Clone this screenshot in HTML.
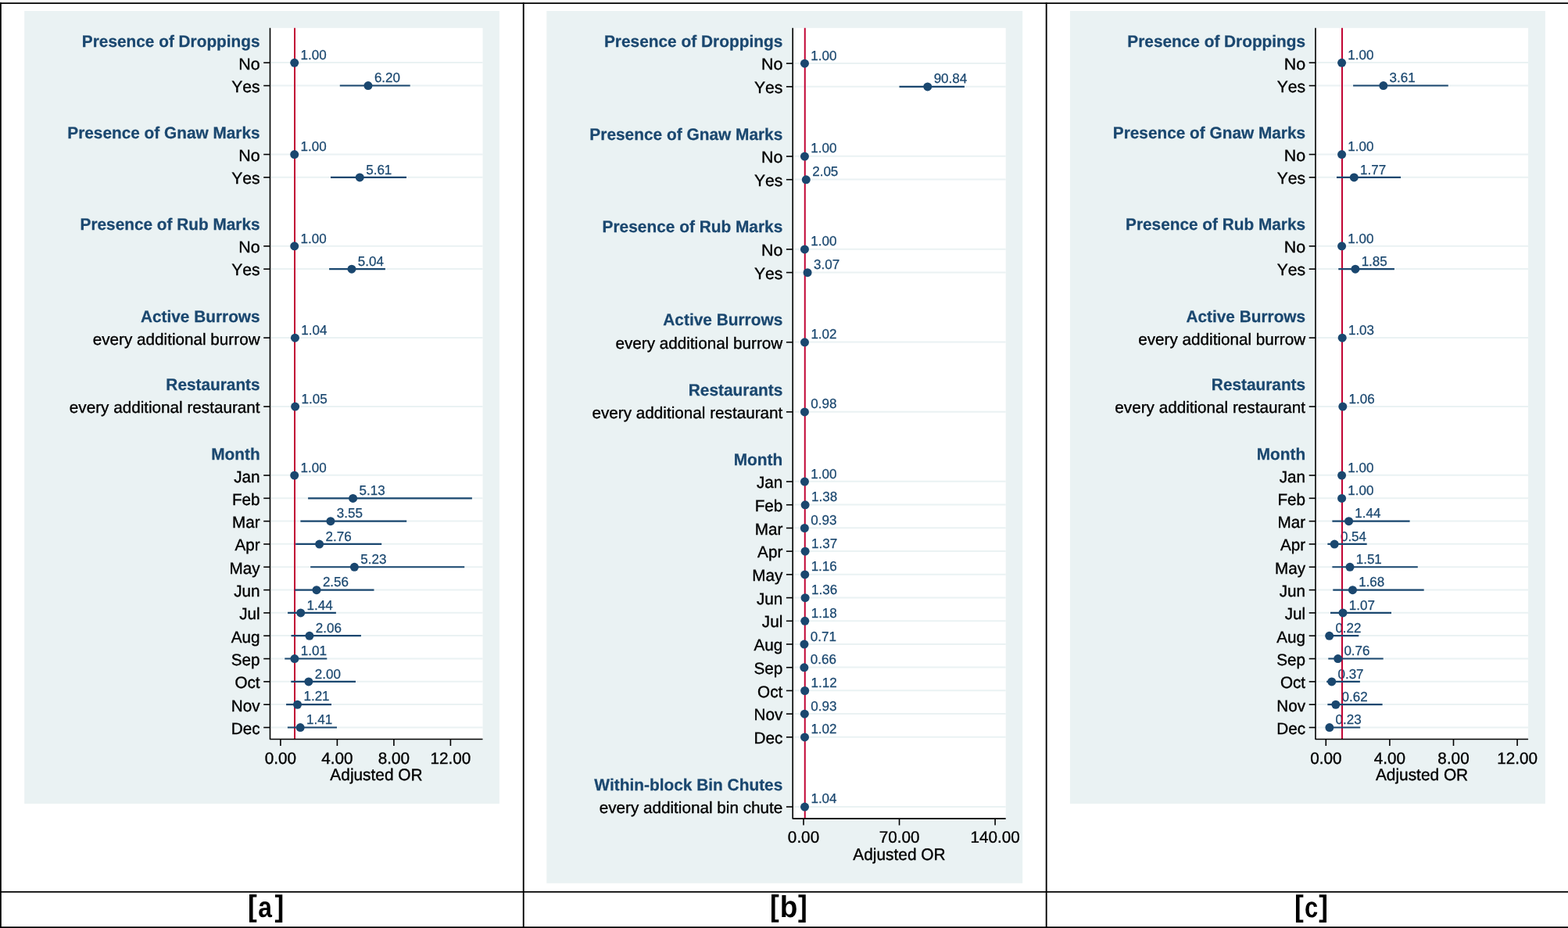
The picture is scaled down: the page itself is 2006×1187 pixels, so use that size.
<!DOCTYPE html>
<html lang="en">
<head>
<meta charset="utf-8">
<title>Adjusted odds ratios</title>
<style>
html,body{margin:0;padding:0;background:#fff;}
body{width:2006px;height:1187px;overflow:hidden;}
svg{display:block;}
</style>
</head>
<body>
<svg width="2006" height="1187" viewBox="0 0 2006 1187" style="font-kerning:none" font-family="'Liberation Sans', Arial, Helvetica, sans-serif">
<rect width="2006" height="1187" fill="#fff"/>
<g>
<rect x="31.2" y="14" width="607.7" height="1014" fill="#eaf2f3"/>
<rect x="345.5" y="35.8" width="272" height="909.7" fill="#fff"/>
<g stroke="#eaf2f3" stroke-width="2">
<line x1="346.5" y1="80.1" x2="617.5" y2="80.1"/>
<line x1="346.5" y1="109.42" x2="617.5" y2="109.42"/>
<line x1="346.5" y1="197.38" x2="617.5" y2="197.38"/>
<line x1="346.5" y1="226.7" x2="617.5" y2="226.7"/>
<line x1="346.5" y1="314.66" x2="617.5" y2="314.66"/>
<line x1="346.5" y1="343.98" x2="617.5" y2="343.98"/>
<line x1="346.5" y1="431.94" x2="617.5" y2="431.94"/>
<line x1="346.5" y1="519.9" x2="617.5" y2="519.9"/>
<line x1="346.5" y1="607.86" x2="617.5" y2="607.86"/>
<line x1="346.5" y1="637.18" x2="617.5" y2="637.18"/>
<line x1="346.5" y1="666.5" x2="617.5" y2="666.5"/>
<line x1="346.5" y1="695.82" x2="617.5" y2="695.82"/>
<line x1="346.5" y1="725.14" x2="617.5" y2="725.14"/>
<line x1="346.5" y1="754.46" x2="617.5" y2="754.46"/>
<line x1="346.5" y1="783.78" x2="617.5" y2="783.78"/>
<line x1="346.5" y1="813.1" x2="617.5" y2="813.1"/>
<line x1="346.5" y1="842.42" x2="617.5" y2="842.42"/>
<line x1="346.5" y1="871.74" x2="617.5" y2="871.74"/>
<line x1="346.5" y1="901.06" x2="617.5" y2="901.06"/>
<line x1="346.5" y1="930.38" x2="617.5" y2="930.38"/>
</g>
<g font-size="17.05" fill="#1a476f" stroke="#1a476f" stroke-width="0.25">
<text transform="translate(384.62 76.1) rotate(0.05) scale(1 1.015)">1.00</text>
<text transform="translate(478.88 105.1) rotate(0.05) scale(1 1.015)">6.20</text>
<text transform="translate(384.62 193.1) rotate(0.05) scale(1 1.015)">1.00</text>
<text transform="translate(468.18 223.1) rotate(0.05) scale(1 1.015)">5.61</text>
<text transform="translate(384.62 311.1) rotate(0.05) scale(1 1.015)">1.00</text>
<text transform="translate(457.85 340.1) rotate(0.05) scale(1 1.015)">5.04</text>
<text transform="translate(385.35 428.1) rotate(0.05) scale(1 1.015)">1.04</text>
<text transform="translate(385.53 516.1) rotate(0.05) scale(1 1.015)">1.05</text>
<text transform="translate(384.62 604.1) rotate(0.05) scale(1 1.015)">1.00</text>
<text transform="translate(459.48 633.1) rotate(0.05) scale(1 1.015)">5.13</text>
<text transform="translate(430.84 662.1) rotate(0.05) scale(1 1.015)">3.55</text>
<text transform="translate(416.52 692.1) rotate(0.05) scale(1 1.015)">2.76</text>
<text transform="translate(461.29 721.1) rotate(0.05) scale(1 1.015)">5.23</text>
<text transform="translate(412.9 750.1) rotate(0.05) scale(1 1.015)">2.56</text>
<text transform="translate(392.6 780.1) rotate(0.05) scale(1 1.015)">1.44</text>
<text transform="translate(403.84 809.1) rotate(0.05) scale(1 1.015)">2.06</text>
<text transform="translate(384.81 838.1) rotate(0.05) scale(1 1.015)">1.01</text>
<text transform="translate(402.75 868.1) rotate(0.05) scale(1 1.015)">2.00</text>
<text transform="translate(388.43 896.1) rotate(0.05) scale(1 1.015)">1.21</text>
<text transform="translate(392.06 926.1) rotate(0.05) scale(1 1.015)">1.41</text>
</g>
<line x1="377.02" y1="35.8" x2="377.02" y2="945.5" stroke="#c10534" stroke-width="2"/>
<g stroke="#1a476f" stroke-width="2.2">
<line x1="434.8" y1="109.52" x2="524.7" y2="109.52"/>
<line x1="423" y1="226.8" x2="520" y2="226.8"/>
<line x1="421.1" y1="344.08" x2="492.9" y2="344.08"/>
<line x1="394.1" y1="637.28" x2="603.9" y2="637.28"/>
<line x1="384.4" y1="666.6" x2="520.2" y2="666.6"/>
<line x1="378.2" y1="695.92" x2="488.2" y2="695.92"/>
<line x1="397.2" y1="725.24" x2="594.2" y2="725.24"/>
<line x1="377.2" y1="754.56" x2="478.5" y2="754.56"/>
<line x1="368.1" y1="783.88" x2="429.9" y2="783.88"/>
<line x1="372.5" y1="813.2" x2="461.9" y2="813.2"/>
<line x1="364.3" y1="842.52" x2="418.3" y2="842.52"/>
<line x1="372.3" y1="871.84" x2="455" y2="871.84"/>
<line x1="366.1" y1="901.16" x2="424" y2="901.16"/>
<line x1="367.9" y1="930.48" x2="431" y2="930.48"/>
</g>
<g fill="#1a476f">
<circle cx="376.72" cy="80.3" r="5.5"/>
<circle cx="470.97" cy="109.62" r="5.5"/>
<circle cx="376.72" cy="197.58" r="5.5"/>
<circle cx="460.28" cy="226.9" r="5.5"/>
<circle cx="376.72" cy="314.86" r="5.5"/>
<circle cx="449.95" cy="344.18" r="5.5"/>
<circle cx="377.45" cy="432.14" r="5.5"/>
<circle cx="377.63" cy="520.1" r="5.5"/>
<circle cx="376.72" cy="608.06" r="5.5"/>
<circle cx="451.58" cy="637.38" r="5.5"/>
<circle cx="422.94" cy="666.7" r="5.5"/>
<circle cx="408.62" cy="696.02" r="5.5"/>
<circle cx="453.39" cy="725.34" r="5.5"/>
<circle cx="405" cy="754.66" r="5.5"/>
<circle cx="384.7" cy="783.98" r="5.5"/>
<circle cx="395.94" cy="813.3" r="5.5"/>
<circle cx="376.91" cy="842.62" r="5.5"/>
<circle cx="394.85" cy="871.94" r="5.5"/>
<circle cx="380.53" cy="901.26" r="5.5"/>
<circle cx="384.16" cy="930.58" r="5.5"/>
</g>
<g stroke="#000" stroke-width="1.6" fill="none">
<path d="M345.5 35.8V945.5H617.5" stroke-linejoin="round"/>
<line x1="337.2" y1="80.25" x2="345.5" y2="80.25"/>
<line x1="337.2" y1="109.57" x2="345.5" y2="109.57"/>
<line x1="337.2" y1="197.53" x2="345.5" y2="197.53"/>
<line x1="337.2" y1="226.85" x2="345.5" y2="226.85"/>
<line x1="337.2" y1="314.81" x2="345.5" y2="314.81"/>
<line x1="337.2" y1="344.13" x2="345.5" y2="344.13"/>
<line x1="337.2" y1="432.09" x2="345.5" y2="432.09"/>
<line x1="337.2" y1="520.05" x2="345.5" y2="520.05"/>
<line x1="337.2" y1="608.01" x2="345.5" y2="608.01"/>
<line x1="337.2" y1="637.33" x2="345.5" y2="637.33"/>
<line x1="337.2" y1="666.65" x2="345.5" y2="666.65"/>
<line x1="337.2" y1="695.97" x2="345.5" y2="695.97"/>
<line x1="337.2" y1="725.29" x2="345.5" y2="725.29"/>
<line x1="337.2" y1="754.61" x2="345.5" y2="754.61"/>
<line x1="337.2" y1="783.93" x2="345.5" y2="783.93"/>
<line x1="337.2" y1="813.25" x2="345.5" y2="813.25"/>
<line x1="337.2" y1="842.57" x2="345.5" y2="842.57"/>
<line x1="337.2" y1="871.89" x2="345.5" y2="871.89"/>
<line x1="337.2" y1="901.21" x2="345.5" y2="901.21"/>
<line x1="337.2" y1="930.53" x2="345.5" y2="930.53"/>
<line x1="358.9" y1="945.5" x2="358.9" y2="954"/>
<line x1="431.4" y1="945.5" x2="431.4" y2="954"/>
<line x1="503.9" y1="945.5" x2="503.9" y2="954"/>
<line x1="576.4" y1="945.5" x2="576.4" y2="954"/>
</g>
<g font-size="20.7" text-anchor="end" stroke="#000" stroke-width="0.35">
<text transform="translate(332.6 60.1) rotate(0.05) scale(1.0055 1.02)" font-weight="bold" fill="#1a476f" stroke="#1a476f" stroke-width="0.25">Presence of Droppings</text>
<text transform="translate(332.6 177.1) rotate(0.05) scale(1.0055 1.02)" font-weight="bold" fill="#1a476f" stroke="#1a476f" stroke-width="0.25">Presence of Gnaw Marks</text>
<text transform="translate(332.6 294.1) rotate(0.05) scale(1.0055 1.02)" font-weight="bold" fill="#1a476f" stroke="#1a476f" stroke-width="0.25">Presence of Rub Marks</text>
<text transform="translate(332.6 412.1) rotate(0.05) scale(1.0055 1.02)" font-weight="bold" fill="#1a476f" stroke="#1a476f" stroke-width="0.25">Active Burrows</text>
<text transform="translate(332.6 499.1) rotate(0.05) scale(1.0055 1.02)" font-weight="bold" fill="#1a476f" stroke="#1a476f" stroke-width="0.25">Restaurants</text>
<text transform="translate(332.6 588.1) rotate(0.05) scale(1.0055 1.02)" font-weight="bold" fill="#1a476f" stroke="#1a476f" stroke-width="0.25">Month</text>
<text transform="translate(332.6 89.1) rotate(0.05) scale(1.036 1.01)">No</text>
<text transform="translate(332.6 118.1) rotate(0.05) scale(1.02 1.01)">Yes</text>
<text transform="translate(332.6 206.1) rotate(0.05) scale(1.036 1.01)">No</text>
<text transform="translate(332.6 235.1) rotate(0.05) scale(1.02 1.01)">Yes</text>
<text transform="translate(332.6 323.1) rotate(0.05) scale(1.036 1.01)">No</text>
<text transform="translate(332.6 352.1) rotate(0.05) scale(1.02 1.01)">Yes</text>
<text transform="translate(332.6 441.1) rotate(0.05)">every additional burrow</text>
<text transform="translate(332.6 528.1) rotate(0.05)">every additional restaurant</text>
<text transform="translate(332.6 617.1) rotate(0.05) scale(1.0 1.01)">Jan</text>
<text transform="translate(332.6 646.1) rotate(0.05) scale(1.0 1.01)">Feb</text>
<text transform="translate(332.6 675.1) rotate(0.05) scale(1.0 1.01)">Mar</text>
<text transform="translate(332.6 704.1) rotate(0.05) scale(1.0 1.01)">Apr</text>
<text transform="translate(332.6 734.1) rotate(0.05) scale(1.0 1.01)">May</text>
<text transform="translate(332.6 763.1) rotate(0.05) scale(1.0 1.01)">Jun</text>
<text transform="translate(332.6 792.1) rotate(0.05) scale(1.0 1.01)">Jul</text>
<text transform="translate(332.6 822.1) rotate(0.05) scale(1.0 1.01)">Aug</text>
<text transform="translate(332.6 851.1) rotate(0.05) scale(1.0 1.01)">Sep</text>
<text transform="translate(332.6 880.1) rotate(0.05) scale(1.0 1.01)">Oct</text>
<text transform="translate(332.6 910.1) rotate(0.05) scale(1.0 1.01)">Nov</text>
<text transform="translate(332.6 939.1) rotate(0.05) scale(1.0 1.01)">Dec</text>
</g>
<g font-size="20.7" text-anchor="middle" stroke="#000" stroke-width="0.35">
<text transform="translate(358.9 976.9) rotate(0.05) scale(1 1.01)">0.00</text>
<text transform="translate(431.4 976.9) rotate(0.05) scale(1 1.01)">4.00</text>
<text transform="translate(503.9 976.9) rotate(0.05) scale(1 1.01)">8.00</text>
<text transform="translate(576.4 976.9) rotate(0.05) scale(1 1.01)">12.00</text>
<text transform="translate(481.5 998.1) rotate(0.05) scale(1.008 1.02)">Adjusted OR</text>
</g>
</g>
<g>
<rect x="699.3" y="14" width="608.9" height="1115.75" fill="#eaf2f3"/>
<rect x="1014.2" y="35.8" width="272.5" height="1011.3" fill="#fff"/>
<g stroke="#eaf2f3" stroke-width="2">
<line x1="1015.2" y1="81" x2="1286.7" y2="81"/>
<line x1="1015.2" y1="110.72" x2="1286.7" y2="110.72"/>
<line x1="1015.2" y1="199.86" x2="1286.7" y2="199.86"/>
<line x1="1015.2" y1="229.57" x2="1286.7" y2="229.57"/>
<line x1="1015.2" y1="318.72" x2="1286.7" y2="318.72"/>
<line x1="1015.2" y1="348.43" x2="1286.7" y2="348.43"/>
<line x1="1015.2" y1="437.58" x2="1286.7" y2="437.58"/>
<line x1="1015.2" y1="526.73" x2="1286.7" y2="526.73"/>
<line x1="1015.2" y1="615.87" x2="1286.7" y2="615.87"/>
<line x1="1015.2" y1="645.58" x2="1286.7" y2="645.58"/>
<line x1="1015.2" y1="675.3" x2="1286.7" y2="675.3"/>
<line x1="1015.2" y1="705.01" x2="1286.7" y2="705.01"/>
<line x1="1015.2" y1="734.73" x2="1286.7" y2="734.73"/>
<line x1="1015.2" y1="764.44" x2="1286.7" y2="764.44"/>
<line x1="1015.2" y1="794.16" x2="1286.7" y2="794.16"/>
<line x1="1015.2" y1="823.88" x2="1286.7" y2="823.88"/>
<line x1="1015.2" y1="853.59" x2="1286.7" y2="853.59"/>
<line x1="1015.2" y1="883.3" x2="1286.7" y2="883.3"/>
<line x1="1015.2" y1="913.02" x2="1286.7" y2="913.02"/>
<line x1="1015.2" y1="942.74" x2="1286.7" y2="942.74"/>
<line x1="1015.2" y1="1031.88" x2="1286.7" y2="1031.88"/>
</g>
<g font-size="17.05" fill="#1a476f" stroke="#1a476f" stroke-width="0.25">
<text transform="translate(1037.35 77.1) rotate(0.05) scale(1 1.015)">1.00</text>
<text transform="translate(1194.63 106.1) rotate(0.05) scale(1 1.015)">90.84</text>
<text transform="translate(1037.35 195.1) rotate(0.05) scale(1 1.015)">1.00</text>
<text transform="translate(1039.19 225.1) rotate(0.05) scale(1 1.015)">2.05</text>
<text transform="translate(1037.35 314.1) rotate(0.05) scale(1 1.015)">1.00</text>
<text transform="translate(1040.97 344.1) rotate(0.05) scale(1 1.015)">3.07</text>
<text transform="translate(1037.39 433.1) rotate(0.05) scale(1 1.015)">1.02</text>
<text transform="translate(1037.32 522.1) rotate(0.05) scale(1 1.015)">0.98</text>
<text transform="translate(1037.35 612.1) rotate(0.05) scale(1 1.015)">1.00</text>
<text transform="translate(1038.02 641.1) rotate(0.05) scale(1 1.015)">1.38</text>
<text transform="translate(1037.23 671.1) rotate(0.05) scale(1 1.015)">0.93</text>
<text transform="translate(1038 701.1) rotate(0.05) scale(1 1.015)">1.37</text>
<text transform="translate(1037.63 730.1) rotate(0.05) scale(1 1.015)">1.16</text>
<text transform="translate(1037.98 760.1) rotate(0.05) scale(1 1.015)">1.36</text>
<text transform="translate(1037.67 790.1) rotate(0.05) scale(1 1.015)">1.18</text>
<text transform="translate(1036.84 820.1) rotate(0.05) scale(1 1.015)">0.71</text>
<text transform="translate(1036.76 849.1) rotate(0.05) scale(1 1.015)">0.66</text>
<text transform="translate(1037.56 879.1) rotate(0.05) scale(1 1.015)">1.12</text>
<text transform="translate(1037.23 909.1) rotate(0.05) scale(1 1.015)">0.93</text>
<text transform="translate(1037.39 938.1) rotate(0.05) scale(1 1.015)">1.02</text>
<text transform="translate(1037.42 1027.1) rotate(0.05) scale(1 1.015)">1.04</text>
</g>
<line x1="1029.75" y1="35.8" x2="1029.75" y2="1047.1" stroke="#c10534" stroke-width="2"/>
<g stroke="#1a476f" stroke-width="2.2">
<line x1="1150.5" y1="110.81" x2="1233.9" y2="110.81"/>
</g>
<g fill="#1a476f">
<circle cx="1029.45" cy="81.2" r="5.5"/>
<circle cx="1186.73" cy="110.92" r="5.5"/>
<circle cx="1029.45" cy="200.06" r="5.5"/>
<circle cx="1031.29" cy="229.77" r="5.5"/>
<circle cx="1029.45" cy="318.92" r="5.5"/>
<circle cx="1033.07" cy="348.63" r="5.5"/>
<circle cx="1029.49" cy="437.78" r="5.5"/>
<circle cx="1029.42" cy="526.93" r="5.5"/>
<circle cx="1029.45" cy="616.07" r="5.5"/>
<circle cx="1030.12" cy="645.78" r="5.5"/>
<circle cx="1029.33" cy="675.5" r="5.5"/>
<circle cx="1030.1" cy="705.22" r="5.5"/>
<circle cx="1029.73" cy="734.93" r="5.5"/>
<circle cx="1030.08" cy="764.64" r="5.5"/>
<circle cx="1029.77" cy="794.36" r="5.5"/>
<circle cx="1028.94" cy="824.08" r="5.5"/>
<circle cx="1028.86" cy="853.79" r="5.5"/>
<circle cx="1029.66" cy="883.5" r="5.5"/>
<circle cx="1029.33" cy="913.22" r="5.5"/>
<circle cx="1029.49" cy="942.94" r="5.5"/>
<circle cx="1029.52" cy="1032.08" r="5.5"/>
</g>
<g stroke="#000" stroke-width="1.6" fill="none">
<path d="M1014.2 35.8V1047.1H1286.7" stroke-linejoin="round"/>
<line x1="1005.9" y1="81.15" x2="1014.2" y2="81.15"/>
<line x1="1005.9" y1="110.87" x2="1014.2" y2="110.87"/>
<line x1="1005.9" y1="200.01" x2="1014.2" y2="200.01"/>
<line x1="1005.9" y1="229.72" x2="1014.2" y2="229.72"/>
<line x1="1005.9" y1="318.87" x2="1014.2" y2="318.87"/>
<line x1="1005.9" y1="348.58" x2="1014.2" y2="348.58"/>
<line x1="1005.9" y1="437.73" x2="1014.2" y2="437.73"/>
<line x1="1005.9" y1="526.88" x2="1014.2" y2="526.88"/>
<line x1="1005.9" y1="616.02" x2="1014.2" y2="616.02"/>
<line x1="1005.9" y1="645.73" x2="1014.2" y2="645.73"/>
<line x1="1005.9" y1="675.45" x2="1014.2" y2="675.45"/>
<line x1="1005.9" y1="705.16" x2="1014.2" y2="705.16"/>
<line x1="1005.9" y1="734.88" x2="1014.2" y2="734.88"/>
<line x1="1005.9" y1="764.59" x2="1014.2" y2="764.59"/>
<line x1="1005.9" y1="794.31" x2="1014.2" y2="794.31"/>
<line x1="1005.9" y1="824.02" x2="1014.2" y2="824.02"/>
<line x1="1005.9" y1="853.74" x2="1014.2" y2="853.74"/>
<line x1="1005.9" y1="883.45" x2="1014.2" y2="883.45"/>
<line x1="1005.9" y1="913.17" x2="1014.2" y2="913.17"/>
<line x1="1005.9" y1="942.88" x2="1014.2" y2="942.88"/>
<line x1="1005.9" y1="1032.03" x2="1014.2" y2="1032.03"/>
<line x1="1028" y1="1047.1" x2="1028" y2="1055.6"/>
<line x1="1150.55" y1="1047.1" x2="1150.55" y2="1055.6"/>
<line x1="1273.1" y1="1047.1" x2="1273.1" y2="1055.6"/>
</g>
<g font-size="20.7" text-anchor="end" stroke="#000" stroke-width="0.35">
<text transform="translate(1001.3 60.1) rotate(0.05) scale(1.008 1.02)" font-weight="bold" fill="#1a476f" stroke="#1a476f" stroke-width="0.25">Presence of Droppings</text>
<text transform="translate(1001.3 179.1) rotate(0.05) scale(1.008 1.02)" font-weight="bold" fill="#1a476f" stroke="#1a476f" stroke-width="0.25">Presence of Gnaw Marks</text>
<text transform="translate(1001.3 297.1) rotate(0.05) scale(1.008 1.02)" font-weight="bold" fill="#1a476f" stroke="#1a476f" stroke-width="0.25">Presence of Rub Marks</text>
<text transform="translate(1001.3 416.1) rotate(0.05) scale(1.008 1.02)" font-weight="bold" fill="#1a476f" stroke="#1a476f" stroke-width="0.25">Active Burrows</text>
<text transform="translate(1001.3 506.1) rotate(0.05) scale(1.008 1.02)" font-weight="bold" fill="#1a476f" stroke="#1a476f" stroke-width="0.25">Restaurants</text>
<text transform="translate(1001.3 595.1) rotate(0.05) scale(1.008 1.02)" font-weight="bold" fill="#1a476f" stroke="#1a476f" stroke-width="0.25">Month</text>
<text transform="translate(1001.3 1011.1) rotate(0.05) scale(1.008 1.02)" font-weight="bold" fill="#1a476f" stroke="#1a476f" stroke-width="0.25">Within-block Bin Chutes</text>
<text transform="translate(1001.3 89.1) rotate(0.05) scale(1.036 1.01)">No</text>
<text transform="translate(1001.3 119.1) rotate(0.05) scale(1.02 1.01)">Yes</text>
<text transform="translate(1001.3 208.1) rotate(0.05) scale(1.036 1.01)">No</text>
<text transform="translate(1001.3 238.1) rotate(0.05) scale(1.02 1.01)">Yes</text>
<text transform="translate(1001.3 327.1) rotate(0.05) scale(1.036 1.01)">No</text>
<text transform="translate(1001.3 357.1) rotate(0.05) scale(1.02 1.01)">Yes</text>
<text transform="translate(1001.3 446.1) rotate(0.05)">every additional burrow</text>
<text transform="translate(1001.3 535.1) rotate(0.05)">every additional restaurant</text>
<text transform="translate(1001.3 624.1) rotate(0.05) scale(1.0 1.01)">Jan</text>
<text transform="translate(1001.3 654.1) rotate(0.05) scale(1.0 1.01)">Feb</text>
<text transform="translate(1001.3 684.1) rotate(0.05) scale(1.0 1.01)">Mar</text>
<text transform="translate(1001.3 713.1) rotate(0.05) scale(1.0 1.01)">Apr</text>
<text transform="translate(1001.3 743.1) rotate(0.05) scale(1.0 1.01)">May</text>
<text transform="translate(1001.3 773.1) rotate(0.05) scale(1.0 1.01)">Jun</text>
<text transform="translate(1001.3 802.1) rotate(0.05) scale(1.0 1.01)">Jul</text>
<text transform="translate(1001.3 832.1) rotate(0.05) scale(1.0 1.01)">Aug</text>
<text transform="translate(1001.3 862.1) rotate(0.05) scale(1.0 1.01)">Sep</text>
<text transform="translate(1001.3 892.1) rotate(0.05) scale(1.0 1.01)">Oct</text>
<text transform="translate(1001.3 921.1) rotate(0.05) scale(1.0 1.01)">Nov</text>
<text transform="translate(1001.3 951.1) rotate(0.05) scale(1.0 1.01)">Dec</text>
<text transform="translate(1001.3 1040.1) rotate(0.05)">every additional bin chute</text>
</g>
<g font-size="20.7" text-anchor="middle" stroke="#000" stroke-width="0.35">
<text transform="translate(1028 1077.7) rotate(0.05) scale(1 1.01)">0.00</text>
<text transform="translate(1150.55 1077.7) rotate(0.05) scale(1 1.01)">70.00</text>
<text transform="translate(1273.1 1077.7) rotate(0.05) scale(1 1.01)">140.00</text>
<text transform="translate(1150.45 1100.05) rotate(0.05) scale(1.008 1.02)">Adjusted OR</text>
</g>
</g>
<g>
<rect x="1368.9" y="14" width="608" height="1014" fill="#eaf2f3"/>
<rect x="1683" y="35.8" width="272.1" height="909.7" fill="#fff"/>
<g stroke="#eaf2f3" stroke-width="2">
<line x1="1684" y1="80.1" x2="1955.1" y2="80.1"/>
<line x1="1684" y1="109.42" x2="1955.1" y2="109.42"/>
<line x1="1684" y1="197.38" x2="1955.1" y2="197.38"/>
<line x1="1684" y1="226.7" x2="1955.1" y2="226.7"/>
<line x1="1684" y1="314.66" x2="1955.1" y2="314.66"/>
<line x1="1684" y1="343.98" x2="1955.1" y2="343.98"/>
<line x1="1684" y1="431.94" x2="1955.1" y2="431.94"/>
<line x1="1684" y1="519.9" x2="1955.1" y2="519.9"/>
<line x1="1684" y1="607.86" x2="1955.1" y2="607.86"/>
<line x1="1684" y1="637.18" x2="1955.1" y2="637.18"/>
<line x1="1684" y1="666.5" x2="1955.1" y2="666.5"/>
<line x1="1684" y1="695.82" x2="1955.1" y2="695.82"/>
<line x1="1684" y1="725.14" x2="1955.1" y2="725.14"/>
<line x1="1684" y1="754.46" x2="1955.1" y2="754.46"/>
<line x1="1684" y1="783.78" x2="1955.1" y2="783.78"/>
<line x1="1684" y1="813.1" x2="1955.1" y2="813.1"/>
<line x1="1684" y1="842.42" x2="1955.1" y2="842.42"/>
<line x1="1684" y1="871.74" x2="1955.1" y2="871.74"/>
<line x1="1684" y1="901.06" x2="1955.1" y2="901.06"/>
<line x1="1684" y1="930.38" x2="1955.1" y2="930.38"/>
</g>
<g font-size="17.05" fill="#1a476f" stroke="#1a476f" stroke-width="0.25">
<text transform="translate(1724.3 76.1) rotate(0.05) scale(1 1.015)">1.00</text>
<text transform="translate(1777.54 105.1) rotate(0.05) scale(1 1.015)">3.61</text>
<text transform="translate(1724.3 193.1) rotate(0.05) scale(1 1.015)">1.00</text>
<text transform="translate(1740.01 223.1) rotate(0.05) scale(1 1.015)">1.77</text>
<text transform="translate(1724.3 311.1) rotate(0.05) scale(1 1.015)">1.00</text>
<text transform="translate(1741.64 340.1) rotate(0.05) scale(1 1.015)">1.85</text>
<text transform="translate(1724.91 428.1) rotate(0.05) scale(1 1.015)">1.03</text>
<text transform="translate(1725.52 516.1) rotate(0.05) scale(1 1.015)">1.06</text>
<text transform="translate(1724.3 604.1) rotate(0.05) scale(1 1.015)">1.00</text>
<text transform="translate(1724.3 633.1) rotate(0.05) scale(1 1.015)">1.00</text>
<text transform="translate(1733.28 662.1) rotate(0.05) scale(1 1.015)">1.44</text>
<text transform="translate(1714.92 692.1) rotate(0.05) scale(1 1.015)">0.54</text>
<text transform="translate(1734.7 721.1) rotate(0.05) scale(1 1.015)">1.51</text>
<text transform="translate(1738.17 750.1) rotate(0.05) scale(1 1.015)">1.68</text>
<text transform="translate(1725.73 780.1) rotate(0.05) scale(1 1.015)">1.07</text>
<text transform="translate(1708.39 809.1) rotate(0.05) scale(1 1.015)">0.22</text>
<text transform="translate(1719.4 838.1) rotate(0.05) scale(1 1.015)">0.76</text>
<text transform="translate(1711.45 868.1) rotate(0.05) scale(1 1.015)">0.37</text>
<text transform="translate(1716.55 897.1) rotate(0.05) scale(1 1.015)">0.62</text>
<text transform="translate(1708.59 926.1) rotate(0.05) scale(1 1.015)">0.23</text>
</g>
<line x1="1717" y1="35.8" x2="1717" y2="945.5" stroke="#c10534" stroke-width="2"/>
<g stroke="#1a476f" stroke-width="2.2">
<line x1="1731.1" y1="109.52" x2="1852.8" y2="109.52"/>
<line x1="1710" y1="226.8" x2="1792.1" y2="226.8"/>
<line x1="1712.3" y1="344.08" x2="1783.9" y2="344.08"/>
<line x1="1704.4" y1="666.6" x2="1803.6" y2="666.6"/>
<line x1="1698.4" y1="695.92" x2="1748.7" y2="695.92"/>
<line x1="1704.4" y1="725.24" x2="1813.8" y2="725.24"/>
<line x1="1705.3" y1="754.56" x2="1821.7" y2="754.56"/>
<line x1="1702" y1="783.88" x2="1780" y2="783.88"/>
<line x1="1697.5" y1="813.2" x2="1738.3" y2="813.2"/>
<line x1="1699.3" y1="842.52" x2="1769.7" y2="842.52"/>
<line x1="1697.2" y1="871.84" x2="1739.9" y2="871.84"/>
<line x1="1698.4" y1="901.16" x2="1768.6" y2="901.16"/>
<line x1="1697.5" y1="930.48" x2="1740.2" y2="930.48"/>
</g>
<g fill="#1a476f">
<circle cx="1716.6" cy="80.3" r="5.5"/>
<circle cx="1769.84" cy="109.62" r="5.5"/>
<circle cx="1716.6" cy="197.58" r="5.5"/>
<circle cx="1732.31" cy="226.9" r="5.5"/>
<circle cx="1716.6" cy="314.86" r="5.5"/>
<circle cx="1733.94" cy="344.18" r="5.5"/>
<circle cx="1717.21" cy="432.14" r="5.5"/>
<circle cx="1717.82" cy="520.1" r="5.5"/>
<circle cx="1716.6" cy="608.06" r="5.5"/>
<circle cx="1716.6" cy="637.38" r="5.5"/>
<circle cx="1725.58" cy="666.7" r="5.5"/>
<circle cx="1707.22" cy="696.02" r="5.5"/>
<circle cx="1727" cy="725.34" r="5.5"/>
<circle cx="1730.47" cy="754.66" r="5.5"/>
<circle cx="1718.03" cy="783.98" r="5.5"/>
<circle cx="1700.69" cy="813.3" r="5.5"/>
<circle cx="1711.7" cy="842.62" r="5.5"/>
<circle cx="1703.75" cy="871.94" r="5.5"/>
<circle cx="1708.85" cy="901.26" r="5.5"/>
<circle cx="1700.89" cy="930.58" r="5.5"/>
</g>
<g stroke="#000" stroke-width="1.6" fill="none">
<path d="M1683 35.8V945.5H1955.1" stroke-linejoin="round"/>
<line x1="1674.7" y1="80.25" x2="1683" y2="80.25"/>
<line x1="1674.7" y1="109.57" x2="1683" y2="109.57"/>
<line x1="1674.7" y1="197.53" x2="1683" y2="197.53"/>
<line x1="1674.7" y1="226.85" x2="1683" y2="226.85"/>
<line x1="1674.7" y1="314.81" x2="1683" y2="314.81"/>
<line x1="1674.7" y1="344.13" x2="1683" y2="344.13"/>
<line x1="1674.7" y1="432.09" x2="1683" y2="432.09"/>
<line x1="1674.7" y1="520.05" x2="1683" y2="520.05"/>
<line x1="1674.7" y1="608.01" x2="1683" y2="608.01"/>
<line x1="1674.7" y1="637.33" x2="1683" y2="637.33"/>
<line x1="1674.7" y1="666.65" x2="1683" y2="666.65"/>
<line x1="1674.7" y1="695.97" x2="1683" y2="695.97"/>
<line x1="1674.7" y1="725.29" x2="1683" y2="725.29"/>
<line x1="1674.7" y1="754.61" x2="1683" y2="754.61"/>
<line x1="1674.7" y1="783.93" x2="1683" y2="783.93"/>
<line x1="1674.7" y1="813.25" x2="1683" y2="813.25"/>
<line x1="1674.7" y1="842.57" x2="1683" y2="842.57"/>
<line x1="1674.7" y1="871.89" x2="1683" y2="871.89"/>
<line x1="1674.7" y1="901.21" x2="1683" y2="901.21"/>
<line x1="1674.7" y1="930.53" x2="1683" y2="930.53"/>
<line x1="1696.3" y1="945.5" x2="1696.3" y2="954"/>
<line x1="1777.9" y1="945.5" x2="1777.9" y2="954"/>
<line x1="1859.5" y1="945.5" x2="1859.5" y2="954"/>
<line x1="1941.1" y1="945.5" x2="1941.1" y2="954"/>
</g>
<g font-size="20.7" text-anchor="end" stroke="#000" stroke-width="0.35">
<text transform="translate(1670.1 60.1) rotate(0.05) scale(1.0055 1.02)" font-weight="bold" fill="#1a476f" stroke="#1a476f" stroke-width="0.25">Presence of Droppings</text>
<text transform="translate(1670.1 177.1) rotate(0.05) scale(1.0055 1.02)" font-weight="bold" fill="#1a476f" stroke="#1a476f" stroke-width="0.25">Presence of Gnaw Marks</text>
<text transform="translate(1670.1 294.1) rotate(0.05) scale(1.0055 1.02)" font-weight="bold" fill="#1a476f" stroke="#1a476f" stroke-width="0.25">Presence of Rub Marks</text>
<text transform="translate(1670.1 412.1) rotate(0.05) scale(1.0055 1.02)" font-weight="bold" fill="#1a476f" stroke="#1a476f" stroke-width="0.25">Active Burrows</text>
<text transform="translate(1670.1 499.1) rotate(0.05) scale(1.0055 1.02)" font-weight="bold" fill="#1a476f" stroke="#1a476f" stroke-width="0.25">Restaurants</text>
<text transform="translate(1670.1 588.1) rotate(0.05) scale(1.0055 1.02)" font-weight="bold" fill="#1a476f" stroke="#1a476f" stroke-width="0.25">Month</text>
<text transform="translate(1670.1 89.1) rotate(0.05) scale(1.036 1.01)">No</text>
<text transform="translate(1670.1 118.1) rotate(0.05) scale(1.02 1.01)">Yes</text>
<text transform="translate(1670.1 206.1) rotate(0.05) scale(1.036 1.01)">No</text>
<text transform="translate(1670.1 235.1) rotate(0.05) scale(1.02 1.01)">Yes</text>
<text transform="translate(1670.1 323.1) rotate(0.05) scale(1.036 1.01)">No</text>
<text transform="translate(1670.1 352.1) rotate(0.05) scale(1.02 1.01)">Yes</text>
<text transform="translate(1670.1 441.1) rotate(0.05)">every additional burrow</text>
<text transform="translate(1670.1 528.1) rotate(0.05)">every additional restaurant</text>
<text transform="translate(1670.1 617.1) rotate(0.05) scale(1.0 1.01)">Jan</text>
<text transform="translate(1670.1 646.1) rotate(0.05) scale(1.0 1.01)">Feb</text>
<text transform="translate(1670.1 675.1) rotate(0.05) scale(1.0 1.01)">Mar</text>
<text transform="translate(1670.1 704.1) rotate(0.05) scale(1.0 1.01)">Apr</text>
<text transform="translate(1670.1 734.1) rotate(0.05) scale(1.0 1.01)">May</text>
<text transform="translate(1670.1 763.1) rotate(0.05) scale(1.0 1.01)">Jun</text>
<text transform="translate(1670.1 792.1) rotate(0.05) scale(1.0 1.01)">Jul</text>
<text transform="translate(1670.1 822.1) rotate(0.05) scale(1.0 1.01)">Aug</text>
<text transform="translate(1670.1 851.1) rotate(0.05) scale(1.0 1.01)">Sep</text>
<text transform="translate(1670.1 880.1) rotate(0.05) scale(1.0 1.01)">Oct</text>
<text transform="translate(1670.1 910.1) rotate(0.05) scale(1.0 1.01)">Nov</text>
<text transform="translate(1670.1 939.1) rotate(0.05) scale(1.0 1.01)">Dec</text>
</g>
<g font-size="20.7" text-anchor="middle" stroke="#000" stroke-width="0.35">
<text transform="translate(1696.3 976.9) rotate(0.05) scale(1 1.01)">0.00</text>
<text transform="translate(1777.9 976.9) rotate(0.05) scale(1 1.01)">4.00</text>
<text transform="translate(1859.5 976.9) rotate(0.05) scale(1 1.01)">8.00</text>
<text transform="translate(1941.1 976.9) rotate(0.05) scale(1 1.01)">12.00</text>
<text transform="translate(1819.05 998.1) rotate(0.05) scale(1.008 1.02)">Adjusted OR</text>
</g>
</g>
<g fill="#000">
<rect x="0" y="3.25" width="2006" height="1.75"/>
<rect x="0" y="1139.9" width="2006" height="1.8"/>
<rect x="0" y="1185.25" width="2006" height="1.75"/>
<rect x="0" y="3.25" width="1.8" height="1183.75"/>
<rect x="668.8" y="3.25" width="1.85" height="1183.75"/>
<rect x="1337.75" y="3.25" width="1.85" height="1183.75"/>
</g>
<g font-size="38.4" font-weight="bold" fill="#000">
<text transform="translate(317.05 1173) rotate(0.05)"><tspan x="0" y="-1.15" textLength="11.76" lengthAdjust="spacingAndGlyphs">[</tspan><tspan x="13.25" y="0" font-size="37.0" textLength="17.69" lengthAdjust="spacingAndGlyphs">a</tspan><tspan x="34.45" y="-1.15" textLength="11.76" lengthAdjust="spacingAndGlyphs">]</tspan></text>
<text transform="translate(985.05 1173) rotate(0.05)"><tspan x="0" y="-1.15" textLength="11.76" lengthAdjust="spacingAndGlyphs">[</tspan><tspan x="12.65" y="0" font-size="38.6" textLength="22.64" lengthAdjust="spacingAndGlyphs">b</tspan><tspan x="36.05" y="-1.15" textLength="11.76" lengthAdjust="spacingAndGlyphs">]</tspan></text>
<text transform="translate(1655.9 1173.2) rotate(0.05)"><tspan x="0" y="-1.15" textLength="11.76" lengthAdjust="spacingAndGlyphs">[</tspan><tspan x="13" y="0" font-size="37.2" textLength="17.17" lengthAdjust="spacingAndGlyphs">c</tspan><tspan x="31.4" y="-1.15" textLength="11.76" lengthAdjust="spacingAndGlyphs">]</tspan></text>
</g>
</svg>
</body>
</html>
